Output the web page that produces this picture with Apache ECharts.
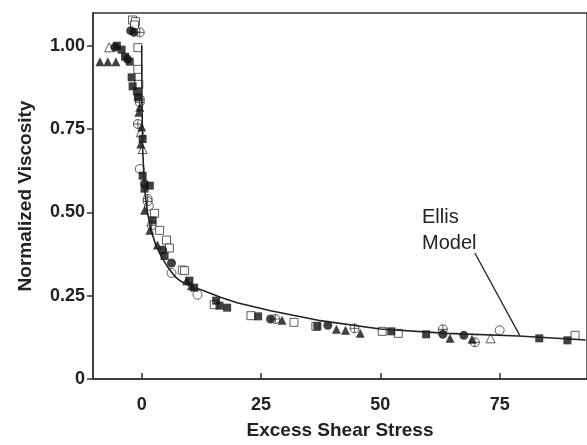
<!DOCTYPE html>
<html>
<head>
<meta charset="utf-8">
<script src="https://cdn.jsdelivr.net/npm/echarts@6/dist/echarts.min.js"></script>
<style>
  html, body { margin: 0; padding: 0; background: #fff; }
  #chart { width: 587px; height: 445px; }
</style>
</head>
<body>
<div id="chart"></div>
<script>
// 数据
var xTicks = [0, 25, 50, 75];
var yTicks = [0, 0.25, 0.5, 0.75, 1.0];

var filledTri = [[-8.75,0.952],[-7.1,0.952],[-5.4,0.952],[-0.4,0.815],[-0.6,0.80],[0,0.756],[-0.2,0.705],
  [0.6,0.506],[1.7,0.446],[3.3,0.402],[9.4,0.295],[10.4,0.28],[29.4,0.176],[40.8,0.149],[42.7,0.146],
  [45.8,0.137],[64.6,0.122],[69.2,0.119]];
var openTri = [[-6.8,0.995],[-0.2,0.74],[0.2,0.69],[73.1,0.122]];
var filledSq = [[-5.2,1.0],[-4.2,0.988],[-3.5,0.967],[-2.5,0.952],[-2.1,0.905],[-1.9,0.878],[-1.0,0.863],
  [-0.8,0.845],[0.2,0.72],[0.2,0.61],[1.7,0.58],[0.6,0.571],[2.3,0.476],[4.8,0.369],[10,0.295],[11,0.274],
  [15.6,0.235],[16.3,0.22],[17.9,0.214],[24.4,0.188],[36.8,0.158],[52.3,0.143],[59.6,0.134],[83.3,0.122],[89.2,0.116]];
var openSq = [[-1.9,1.077],[-1.3,1.072],[-1.5,1.062],[-0.8,0.994],[-0.8,0.929],[-0.6,0.884],[2.7,0.497],
  [3.75,0.446],[5.2,0.417],[5.8,0.393],[8.5,0.327],[9.0,0.325],[15.2,0.223],[22.9,0.19],[31.9,0.17],
  [36.5,0.158],[50.4,0.143],[53.75,0.137],[90.8,0.131]];
var filledCirc = [[-2.3,1.045],[-1.6,1.04],[-5.6,0.995],[-3.0,0.96],[0.6,0.586],[4.4,0.387],[6.25,0.348],
  [27,0.18],[39,0.161],[63.1,0.134],[67.5,0.131]];
var openCirc = [[-0.4,0.63],[1.5,0.52],[6.25,0.318],[11.7,0.253],[75,0.146]];
var crossCirc = [[-0.4,1.04],[-0.4,0.84],[-0.4,0.83],[-0.8,0.765],[1.25,0.54],[1.25,0.533],[2.1,0.461],
  [28,0.18],[44.6,0.152],[63.1,0.149],[69.8,0.11]];

// Ellis 模型曲线
var ellisCurve = [[0,1.0],[0.05,0.85],[0.2,0.69],[0.6,0.57],[1.2,0.50],[2.0,0.445],[3.0,0.40],[4.2,0.365],
  [5.5,0.335],[7,0.307],[8,0.295],[10,0.28],[13,0.265],[16.5,0.245],[20,0.229],[27,0.205],[37,0.176],
  [50,0.15],[64,0.137],[79,0.129],[93,0.117]];
var ellisPointer = [[69.8,0.378],[79.2,0.131]];

var ink = '#222';
var crossPath = 'path://M0,-10A10,10,0,1,1,0,10A10,10,0,1,1,0,-10ZM-10,0L10,0M0,-10L0,10';

function scat(name, data, symbol, filled, size) {
    return {
        name: name,
        type: 'scatter',
        data: data,
        symbol: symbol,
        symbolSize: size,
        itemStyle: filled ? {color: '#111'} : {color: '#fff', borderColor: '#333', borderWidth: 1},
        z: filled ? 3 : 2
    };
}

var myChart = echarts.init(document.getElementById('chart'));
myChart.setOption({
    animation: false,
    grid: {
        left: 93, top: 13, right: -3, bottom: 63,
        show: true, borderColor: '#333', borderWidth: 1.5
    },
    xAxis: {
        type: 'value',
        min: -10.2, max: 93.3,
        name: 'Excess Shear Stress',
        nameLocation: 'middle',
        nameGap: 42,
        nameTextStyle: {fontFamily: 'Liberation Sans', fontWeight: 'bold', fontSize: 19, color: ink},
        axisLine: {onZero: false, lineStyle: {color: '#333', width: 1.5}},
        axisTick: {inside: true, length: 6, customValues: xTicks, lineStyle: {color: '#333', width: 1.5}},
        axisLabel: {customValues: xTicks, margin: 17, fontFamily: 'Liberation Sans', fontWeight: 'bold', fontSize: 18, color: ink},
        splitLine: {show: false}
    },
    yAxis: {
        type: 'value',
        min: 0, max: 1.098,
        name: 'Normalized Viscosity',
        nameLocation: 'middle',
        nameGap: 58,
        nameTextStyle: {fontFamily: 'Liberation Sans', fontWeight: 'bold', fontSize: 19, color: ink},
        axisLine: {onZero: false, lineStyle: {color: '#333', width: 1.5}},
        axisTick: {length: 6, customValues: yTicks, lineStyle: {color: '#333', width: 1.5}},
        axisLabel: {
            customValues: yTicks, margin: 8,
            fontFamily: 'Liberation Sans', fontWeight: 'bold', fontSize: 18, color: ink,
            formatter: function (v) { return v === 0 ? '0' : v.toFixed(2); }
        },
        splitLine: {show: false}
    },
    graphic: [{
        type: 'text', left: 422, top: 204,
        style: {text: 'Ellis\nModel', font: '20px "Liberation Sans"', fill: ink, lineHeight: 26}
    }],
    series: [
        {
            name: 'Ellis Model',
            type: 'line',
            data: ellisCurve,
            showSymbol: false,
            lineStyle: {color: ink, width: 1.6},
            z: 4,
            markLine: {
                silent: true,
                symbol: 'none',
                label: {show: false},
                lineStyle: {color: ink, width: 1.3, type: 'solid'},
                data: [[{coord: ellisPointer[0]}, {coord: ellisPointer[1]}]]
            }
        },
        scat('open square', openSq, 'rect', false, 8),
        scat('open circle', openCirc, 'circle', false, 9),
        scat('open triangle', openTri, 'triangle', false, 9),
        scat('crossed circle', crossCirc, crossPath, false, 9),
        scat('filled square', filledSq, 'rect', true, 8),
        scat('filled circle', filledCirc, 'circle', true, 9),
        scat('filled triangle', filledTri, 'triangle', true, 9)
    ]
});
</script>
</body>
</html>
